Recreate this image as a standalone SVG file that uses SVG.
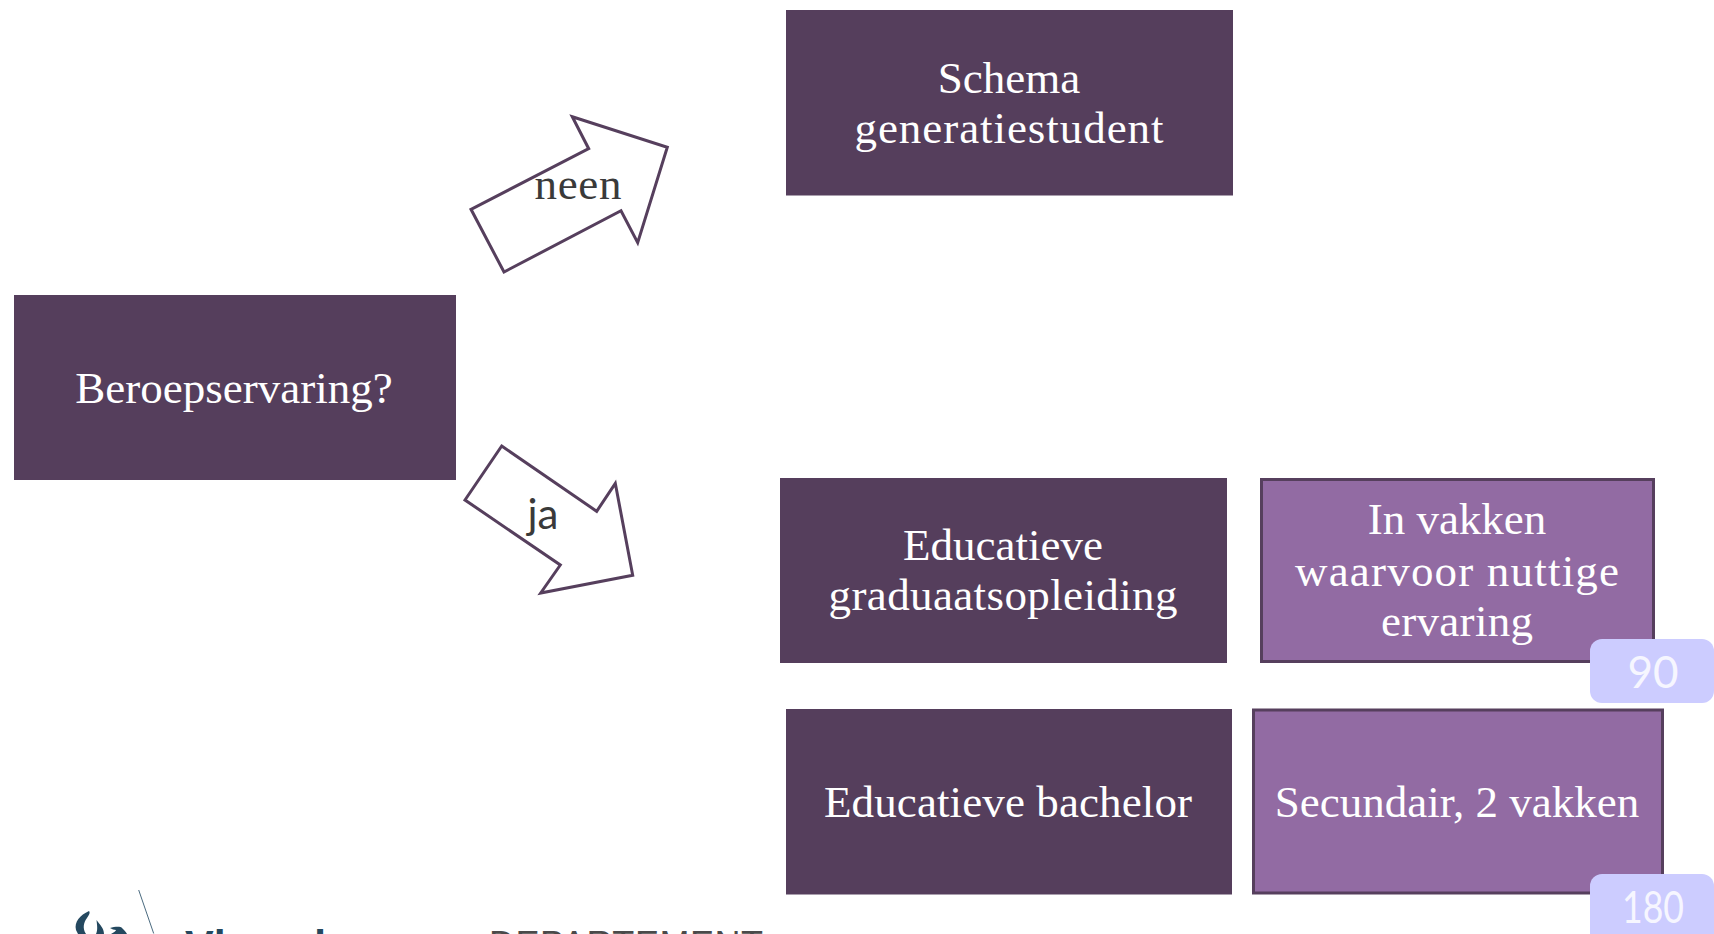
<svg xmlns="http://www.w3.org/2000/svg" width="1714" height="934" viewBox="0 0 1714 934">
<style>
.dark{fill:#553e5c}
.mid{fill:#926ba3;stroke:#563f5d;stroke-width:3}
.badge{fill:#ccccff}
.arrow{fill:#fff;stroke:#563f5d;stroke-width:3}
text{font-family:"Liberation Serif","DejaVu Serif",serif;text-anchor:middle}
.t{fill:#fff;font-size:45px}
.n{fill:#f6f6ff;font-size:44px;font-family:Lato,"Open Sans",sans-serif}
.a{fill:#3a3a3a;font-size:45px}
.logo{fill:#24485f}
</style>
<rect width="1714" height="934" fill="#fff"/>
<g id="connectors">
<polygon class="arrow" points="572.3,116.7 667.3,147.3 637.7,242.7 621,210.7 504,272 471,209.3 588.7,148.7"/>
<polygon class="arrow" points="501.7,446 596.7,511.3 615.3,483.3 632.7,575.3 540.7,593 560.3,565 465,500"/>
<text class="a" x="578" y="199" textLength="87">neen</text>
<text class="a" x="543" y="529" style="font-family:Lato,sans-serif;font-size:42px">ja</text>
</g>
<g id="node-beroepservaring"><rect class="dark" x="14" y="295" width="442" height="185"/><text class="t" x="234" y="403">Beroepservaring?</text></g>
<g id="node-schema"><rect class="dark" x="786" y="10" width="447" height="185.500"/><text class="t" x="1009" y="93">Schema</text><text class="t" x="1009" y="143" textLength="309">generatiestudent</text></g>
<g id="node-graduaat"><rect class="dark" x="780" y="478" width="447" height="185"/><text class="t" x="1003" y="560">Educatieve</text><text class="t" x="1003" y="610" textLength="349">graduaatsopleiding</text></g>
<g id="node-vakken"><rect class="mid" x="1261.500" y="479.500" width="392" height="182"/><text class="t" x="1457" y="534">In vakken</text><text class="t" x="1457" y="586" textLength="324">waarvoor nuttige</text><text class="t" x="1457" y="636" textLength="152">ervaring</text></g>
<g id="node-bachelor"><rect class="dark" x="786" y="709" width="446" height="185.500"/><text class="t" x="1008" y="817" textLength="368">Educatieve bachelor</text></g>
<g id="node-secundair"><rect class="mid" x="1253.500" y="710" width="409" height="183"/><text class="t" x="1457" y="817">Secundair, 2 vakken</text></g>
<g id="badge-90"><rect class="badge" x="1590" y="639" width="124" height="64" rx="12"/><text class="n" x="1653" y="688">90</text></g>
<g id="badge-180"><rect class="badge" x="1590" y="874" width="124" height="72" rx="12"/><text class="n" x="1653" y="923" textLength="62" lengthAdjust="spacingAndGlyphs">180</text></g>
<g id="logo">
<line x1="138.700" y1="890" x2="153.700" y2="933.500" stroke="#4a6a7f" stroke-width="1"/>
<path class="logo" d="M89,911 C80,915 74,922 76,930 L78,934 H86 C82,928 84,922 87,918 C90,914 90,912 89,911 Z"/>
<path class="logo" d="M96.500,920 C100,925 104,928 104,934 H96 C98,930 97,925 96.500,920 Z"/>
<path class="logo" d="M110,928 C114,927 120,926 122,928 C124,930 126,932 127,934 H111 C114,932 116,931 116,930 C114,930 112,929 110,928 Z"/>
<text x="185" y="960" class="logo" style="text-anchor:start;font-family:'Liberation Sans',sans-serif;font-weight:700;font-size:43px">Vlaanderen</text>
<text x="489" y="957" textLength="274" style="text-anchor:start;font-family:'Liberation Sans',sans-serif;font-size:36px;fill:#4a4a4a">DEPARTEMENT</text>
</g>
</svg>
